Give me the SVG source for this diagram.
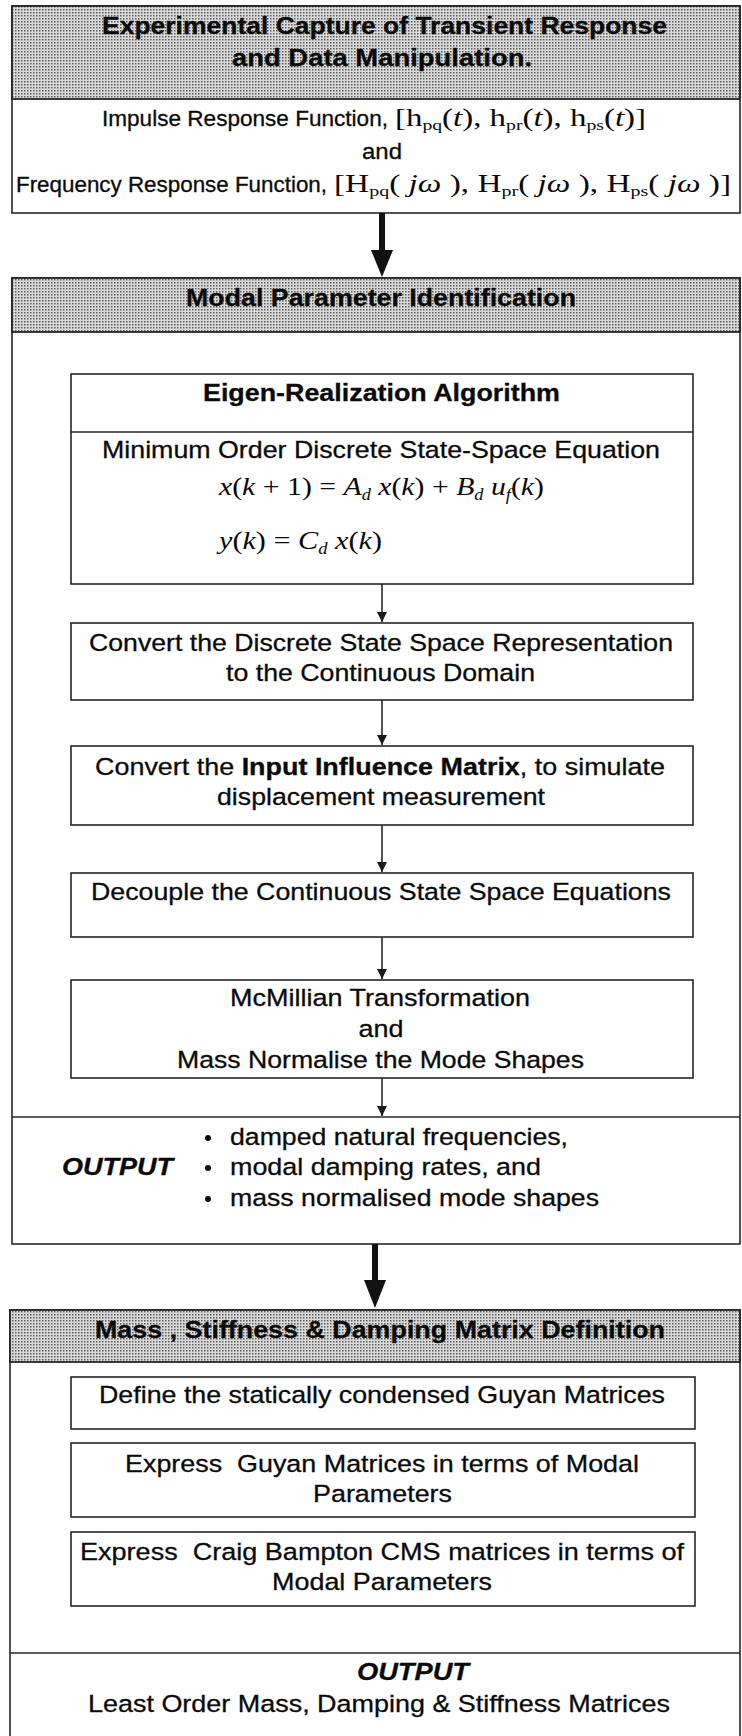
<svg xmlns="http://www.w3.org/2000/svg" width="742" height="1736" viewBox="0 0 742 1736">
<style>
.bg{fill:#ffffff}
.box{fill:#ffffff;stroke:#262626;stroke-width:1.6}
.hdr{fill:url(#dots);stroke:#262626;stroke-width:1.8}
.ln{stroke:#262626;stroke-width:1.6;fill:none}
.t{font-family:"Liberation Sans",Arial,sans-serif;font-size:24.5px;fill:#0a0a0a;stroke:#0a0a0a;stroke-width:0.3}
.s{font-size:22px}
.b{font-weight:bold}
.bi{font-weight:bold;font-style:italic}
.m{font-family:"Liberation Serif","Times New Roman",serif;fill:#0a0a0a}
.i{font-style:italic}
.conn{stroke:#1a1a1a;stroke-width:1.5;fill:none}
.big{fill:#111}
</style>
<defs>
<pattern id="dots" width="3" height="3" patternUnits="userSpaceOnUse">
<rect width="3" height="3" fill="#dadada"/>
<rect x="0" y="0" width="1.5" height="1.5" fill="#5c5c5c"/>
</pattern>
<marker id="ah" viewBox="0 0 10 10" refX="10" refY="5" markerWidth="10" markerHeight="10" markerUnits="userSpaceOnUse" orient="auto">
<path d="M0,0 L10,5 L0,10 z" fill="#1a1a1a"/>
</marker>
</defs>
<rect class="bg" x="0" y="0" width="742" height="1736"/>

<g id="capture">
<rect class="box" x="12" y="6" width="728" height="207"/>
<rect class="hdr" x="12" y="6" width="728" height="93"/>
<text class="t b" x="384.5" y="34" text-anchor="middle" textLength="565" lengthAdjust="spacingAndGlyphs">Experimental Capture of Transient Response</text>
<text class="t b" x="382" y="66" text-anchor="middle" textLength="300" lengthAdjust="spacingAndGlyphs">and Data Manipulation.</text>
<text class="t s" x="102" y="126" textLength="286" lengthAdjust="spacingAndGlyphs">Impulse Response Function,</text>
<text class="m" x="395" y="126" font-size="25" textLength="251" lengthAdjust="spacingAndGlyphs">[h<tspan dy="4" font-size="15">pq</tspan><tspan dy="-4">(</tspan><tspan class="i">t</tspan>), h<tspan dy="4" font-size="15">pr</tspan><tspan dy="-4">(</tspan><tspan class="i">t</tspan>), h<tspan dy="4" font-size="15">ps</tspan><tspan dy="-4">(</tspan><tspan class="i">t</tspan>)]</text>
<text class="t s" x="382" y="159" text-anchor="middle" textLength="40" lengthAdjust="spacingAndGlyphs">and</text>
<text class="t s" x="16" y="192" textLength="311" lengthAdjust="spacingAndGlyphs">Frequency Response Function,</text>
<text class="m" x="334" y="192" font-size="25" textLength="397" lengthAdjust="spacingAndGlyphs">[H<tspan dy="4" font-size="15">pq</tspan><tspan dy="-4">( </tspan><tspan class="i">j</tspan><tspan class="i">ω</tspan> ), H<tspan dy="4" font-size="15">pr</tspan><tspan dy="-4">( </tspan><tspan class="i">j</tspan><tspan class="i">ω</tspan> ), H<tspan dy="4" font-size="15">ps</tspan><tspan dy="-4">( </tspan><tspan class="i">j</tspan><tspan class="i">ω</tspan> )]</text>
</g>

<g id="modal-section">
<rect class="box" x="12" y="278" width="728" height="966"/>
<rect class="hdr" x="12" y="278" width="728" height="54"/>
<text class="t b" x="381" y="306" text-anchor="middle" textLength="390" lengthAdjust="spacingAndGlyphs">Modal Parameter Identification</text>
<line class="ln" x1="12" y1="1117" x2="740" y2="1117"/>
</g>

<g id="era">
<rect class="box" x="71" y="374" width="622" height="210"/>
<line class="ln" x1="71" y1="432" x2="693" y2="432"/>
<text class="t b" x="381.5" y="401" text-anchor="middle" textLength="357" lengthAdjust="spacingAndGlyphs">Eigen-Realization Algorithm</text>
<text class="t" x="381" y="458" text-anchor="middle" textLength="558" lengthAdjust="spacingAndGlyphs">Minimum Order Discrete State-Space Equation</text>
<text class="m" x="219" y="495" font-size="26" textLength="325" lengthAdjust="spacingAndGlyphs"><tspan class="i">x</tspan>(<tspan class="i">k</tspan> + 1) = <tspan class="i">A</tspan><tspan class="i" dy="5" font-size="16">d</tspan><tspan dy="-5"> </tspan><tspan class="i">x</tspan>(<tspan class="i">k</tspan>) + <tspan class="i">B</tspan><tspan class="i" dy="5" font-size="16">d</tspan><tspan dy="-5"> </tspan><tspan class="i">u</tspan><tspan class="i" dy="5" font-size="16">f</tspan><tspan dy="-5">(</tspan><tspan class="i">k</tspan>)</text>
<text class="m" x="219" y="549" font-size="26" textLength="163" lengthAdjust="spacingAndGlyphs"><tspan class="i">y</tspan>(<tspan class="i">k</tspan>) = <tspan class="i">C</tspan><tspan class="i" dy="5" font-size="16">d</tspan><tspan dy="-5"> </tspan><tspan class="i">x</tspan>(<tspan class="i">k</tspan>)</text>
</g>

<g id="convert-discrete">
<rect class="box" x="71" y="623" width="622" height="77"/>
<text class="t" x="381" y="651" text-anchor="middle" textLength="584" lengthAdjust="spacingAndGlyphs">Convert the Discrete State Space Representation</text>
<text class="t" x="380.5" y="681" text-anchor="middle" textLength="309" lengthAdjust="spacingAndGlyphs">to the Continuous Domain</text>
</g>

<g id="convert-input">
<rect class="box" x="71" y="746" width="622" height="79"/>
<text class="t" x="380" y="775" text-anchor="middle" textLength="570" lengthAdjust="spacingAndGlyphs">Convert the <tspan class="b">Input Influence Matrix</tspan>, to simulate</text>
<text class="t" x="381" y="805" text-anchor="middle" textLength="328" lengthAdjust="spacingAndGlyphs">displacement measurement</text>
</g>

<g id="decouple">
<rect class="box" x="71" y="873" width="622" height="64"/>
<text class="t" x="381" y="900" text-anchor="middle" textLength="580" lengthAdjust="spacingAndGlyphs">Decouple the Continuous State Space Equations</text>
</g>

<g id="mcmillian">
<rect class="box" x="71" y="980" width="622" height="98"/>
<text class="t" x="380" y="1006" text-anchor="middle" textLength="300" lengthAdjust="spacingAndGlyphs">McMillian Transformation</text>
<text class="t" x="381" y="1037" text-anchor="middle" textLength="45" lengthAdjust="spacingAndGlyphs">and</text>
<text class="t" x="380.5" y="1068" text-anchor="middle" textLength="407" lengthAdjust="spacingAndGlyphs">Mass Normalise the Mode Shapes</text>
</g>

<g id="modal-output">
<text class="t bi" x="62" y="1175" textLength="111" lengthAdjust="spacingAndGlyphs">OUTPUT</text>
<circle cx="208" cy="1138" r="3" fill="#0a0a0a"/>
<circle cx="208" cy="1168" r="3" fill="#0a0a0a"/>
<circle cx="208" cy="1199" r="3" fill="#0a0a0a"/>
<text class="t" x="230" y="1145" textLength="338" lengthAdjust="spacingAndGlyphs">damped natural frequencies,</text>
<text class="t" x="230" y="1175" textLength="311" lengthAdjust="spacingAndGlyphs">modal damping rates, and</text>
<text class="t" x="230" y="1206" textLength="369" lengthAdjust="spacingAndGlyphs">mass normalised mode shapes</text>
</g>

<g id="matrix-section">
<rect class="box" x="10" y="1310" width="730" height="440"/>
<rect class="hdr" x="10" y="1310" width="730" height="52"/>
<text class="t b" x="380" y="1338" text-anchor="middle" textLength="570" lengthAdjust="spacingAndGlyphs">Mass , Stiffness &amp; Damping Matrix Definition</text>
<line class="ln" x1="10" y1="1653" x2="740" y2="1653"/>
</g>

<g id="guyan-define">
<rect class="box" x="71" y="1377" width="624" height="52"/>
<text class="t" x="382" y="1403" text-anchor="middle" textLength="566" lengthAdjust="spacingAndGlyphs">Define the statically condensed Guyan Matrices</text>
</g>

<g id="guyan-modal">
<rect class="box" x="71" y="1443" width="624" height="74"/>
<text class="t" x="382" y="1472" text-anchor="middle" textLength="514" lengthAdjust="spacingAndGlyphs" xml:space="preserve">Express  Guyan Matrices in terms of Modal</text>
<text class="t" x="382.5" y="1502" text-anchor="middle" textLength="139" lengthAdjust="spacingAndGlyphs">Parameters</text>
</g>

<g id="craig-bampton">
<rect class="box" x="71" y="1532" width="624" height="74"/>
<text class="t" x="382" y="1560" text-anchor="middle" textLength="604" lengthAdjust="spacingAndGlyphs" xml:space="preserve">Express  Craig Bampton CMS matrices in terms of</text>
<text class="t" x="382" y="1590" text-anchor="middle" textLength="220" lengthAdjust="spacingAndGlyphs">Modal Parameters</text>
</g>

<g id="final-output">
<text class="t bi" x="413" y="1680" text-anchor="middle" textLength="112" lengthAdjust="spacingAndGlyphs">OUTPUT</text>
<text class="t" x="379" y="1712" text-anchor="middle" textLength="582" lengthAdjust="spacingAndGlyphs">Least Order Mass, Damping &amp; Stiffness Matrices</text>
</g>

<g id="connectors">
<rect class="big" x="379" y="213" width="6" height="39"/>
<polygon class="big" points="371,250 393,250 382,277"/>
<line class="conn" x1="382" y1="584" x2="382" y2="622" marker-end="url(#ah)"/>
<line class="conn" x1="382" y1="700" x2="382" y2="745" marker-end="url(#ah)"/>
<line class="conn" x1="382" y1="825" x2="382" y2="872" marker-end="url(#ah)"/>
<line class="conn" x1="382" y1="937" x2="382" y2="979" marker-end="url(#ah)"/>
<line class="conn" x1="382" y1="1078" x2="382" y2="1116" marker-end="url(#ah)"/>
<rect class="big" x="372" y="1244" width="6" height="38"/>
<polygon class="big" points="364,1280 386,1280 375,1308"/>
</g>
</svg>
